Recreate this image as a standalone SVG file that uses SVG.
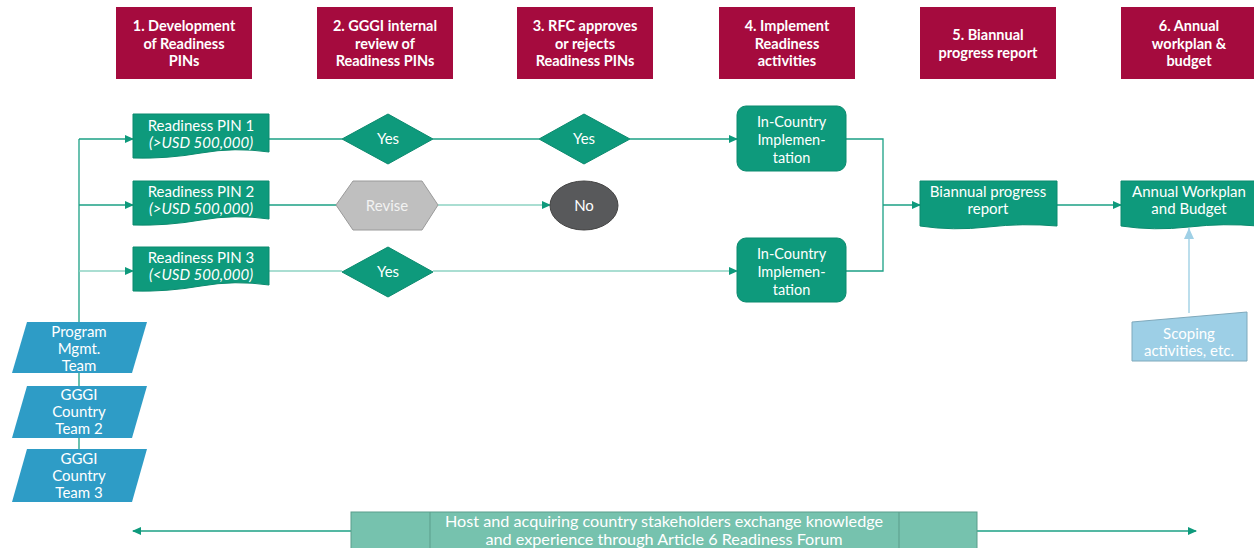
<svg xmlns="http://www.w3.org/2000/svg" width="1254" height="548" viewBox="0 0 1254 548">
<defs>
<style>
.hdr{fill:#A50B3E;}
.ht{font-family:Lato,"Liberation Sans",sans-serif;font-weight:bold;font-size:14.5px;fill:#fff;text-anchor:middle;}
.t{font-family:Lato,"Liberation Sans",sans-serif;font-size:15px;fill:#fff;text-anchor:middle;}
.tl{font-family:Lato,"Liberation Sans",sans-serif;font-size:15px;fill:#fff;text-anchor:middle;}
.it{font-style:italic;}
.g{fill:#0E9A7C;stroke:#0B8A6E;stroke-width:1;}
.p{fill:#2E9CC6;}
.c{fill:none;stroke:#1BA085;stroke-width:1.3;}
.cl{fill:none;stroke:#8ED3C3;stroke-width:1.3;}
.cb{fill:none;stroke:#A6D3E6;stroke-width:1.5;}
</style>
<marker id="a" markerWidth="9" markerHeight="9" refX="8" refY="4.5" orient="auto" markerUnits="userSpaceOnUse"><path d="M0,0.5 L9,4.5 L0,8.5 Z" fill="#0E9A7C"/></marker>
<marker id="ab" markerWidth="12" markerHeight="12" refX="11" refY="6" orient="auto" markerUnits="userSpaceOnUse"><path d="M0,1 L11,6 L0,11 Z" fill="#9FD0E6"/></marker>
</defs>

<g id="connectors">
<path class="c" d="M79,139 V450"/>
<path class="c" d="M79,139 H133" marker-end="url(#a)"/>
<path class="c" d="M79,205 H133" marker-end="url(#a)"/>
<path class="cl" d="M79,271 H133" marker-end="url(#a)"/>
<path class="c" d="M269,139 H342"/>
<path class="c" d="M433,139 H539"/>
<path class="c" d="M630,139 H737" marker-end="url(#a)"/>
<path class="c" d="M269,205 H336"/>
<path class="cl" d="M438,205 H550" marker-end="url(#a)"/>
<path class="cl" d="M269,271 H342"/>
<path class="cl" d="M433,271 H737" marker-end="url(#a)"/>
<path class="c" d="M846,139 H883 V271 H846"/>
<path class="c" d="M883,205 H920" marker-end="url(#a)"/>
<path class="c" d="M1057,205 H1121" marker-end="url(#a)"/>
<path class="cb" d="M1189,313 V228" marker-end="url(#ab)"/>
<path class="c" d="M351,531 H133" marker-end="url(#a)"/>
<path class="c" d="M977,531 H1196" marker-end="url(#a)"/>
</g>

<g id="h1"><rect class="hdr" x="116" y="7" width="136" height="72"/><text class="ht" x="184" y="31">1. Development</text><text class="ht" x="184" y="48.5">of Readiness</text><text class="ht" x="184" y="66">PINs</text></g>
<g id="h2"><rect class="hdr" x="317" y="7" width="136" height="72"/><text class="ht" x="385" y="31">2. GGGI internal</text><text class="ht" x="385" y="48.5">review of</text><text class="ht" x="385" y="66">Readiness PINs</text></g>
<g id="h3"><rect class="hdr" x="517" y="7" width="136" height="72"/><text class="ht" x="585" y="31">3. RFC approves</text><text class="ht" x="585" y="48.5">or rejects</text><text class="ht" x="585" y="66">Readiness PINs</text></g>
<g id="h4"><rect class="hdr" x="719" y="7" width="136" height="72"/><text class="ht" x="787" y="31">4. Implement</text><text class="ht" x="787" y="48.5">Readiness</text><text class="ht" x="787" y="66">activities</text></g>
<g id="h5"><rect class="hdr" x="920" y="7" width="136" height="72"/><text class="ht" x="988" y="40">5. Biannual</text><text class="ht" x="988" y="57.5">progress report</text></g>
<g id="h6"><rect class="hdr" x="1121" y="7" width="136" height="72"/><text class="ht" x="1189" y="31">6. Annual</text><text class="ht" x="1189" y="48.5">workplan &amp;</text><text class="ht" x="1189" y="66">budget</text></g>

<g id="pin1"><path class="g" d="M133,114 H269 V152 Q235,147 201,153 T133,158 Z"/><text class="t" x="201" y="131">Readiness PIN 1</text><text class="t it" x="201" y="148">(&gt;USD 500,000)</text></g>
<g id="pin2"><path class="g" d="M133,181 H269 V219 Q235,214 201,220 T133,225 Z"/><text class="t" x="201" y="197">Readiness PIN 2</text><text class="t it" x="201" y="214">(&gt;USD 500,000)</text></g>
<g id="pin3"><path class="g" d="M133,247 H269 V285 Q235,280 201,286 T133,291 Z"/><text class="t" x="201" y="263">Readiness PIN 3</text><text class="t it" x="201" y="280">(&lt;USD 500,000)</text></g>

<g id="yes1"><path class="g" d="M388,114 L433,139 L388,164 L342,139 Z"/><text class="tl" x="388" y="144">Yes</text></g>
<g id="yes2"><path class="g" d="M584,114 L630,139 L584,164 L539,139 Z"/><text class="tl" x="584" y="144">Yes</text></g>
<g id="yes3"><path class="g" d="M388,247 L433,272 L388,297 L342,272 Z"/><text class="tl" x="388" y="277">Yes</text></g>
<g id="revise"><path d="M336,205 L353,181 L422,181 L438,205 L422,230 L353,230 Z" fill="#BFBFBF" stroke="#9A9A9A"/><text class="tl" x="387" y="210.5" style="fill:#F2F2F2">Revise</text></g>
<g id="no"><ellipse cx="584" cy="205.5" rx="34" ry="24.5" fill="#58595B" stroke="#444"/><text class="tl" x="584" y="211">No</text></g>

<g id="impl1"><rect class="g" x="737" y="106" width="109" height="65" rx="9"/><text class="t" x="791.5" y="127" style="font-size:14.5px">In-Country</text><text class="t" x="791.5" y="145" style="font-size:14.5px">Implemen-</text><text class="t" x="791.5" y="163" style="font-size:14.5px">tation</text></g>
<g id="impl2"><rect class="g" x="737" y="238" width="109" height="64" rx="9"/><text class="t" x="791.5" y="259" style="font-size:14.5px">In-Country</text><text class="t" x="791.5" y="277" style="font-size:14.5px">Implemen-</text><text class="t" x="791.5" y="295" style="font-size:14.5px">tation</text></g>

<g id="biannual"><path class="g" d="M920,181 H1057 V226 Q1023,223 988,227 T920,226 Z"/><text class="t" x="988" y="197">Biannual progress</text><text class="t" x="988" y="214">report</text></g>
<g id="annual"><path class="g" d="M1121,181 H1258 V226 Q1224,223 1189,227 T1121,226 Z"/><text class="t" x="1189" y="197">Annual Workplan</text><text class="t" x="1189" y="214">and Budget</text></g>

<g id="scoping"><path d="M1132,322 L1247,312 V361 H1132 Z" fill="#9DCFE6" stroke="#7FA9BC"/><text class="t" x="1189" y="339">Scoping</text><text class="t" x="1189" y="356">activities, etc.</text></g>

<g id="pmt"><path class="p" d="M27,322 H147 L132,373 H12 Z"/><text class="tl" x="79" y="337">Program</text><text class="tl" x="79" y="354">Mgmt.</text><text class="tl" x="79" y="371">Team</text></g>
<g id="team2"><path class="p" d="M27,386 H147 L132,438 H12 Z"/><text class="tl" x="79" y="400">GGGI</text><text class="tl" x="79" y="417">Country</text><text class="tl" x="79" y="434">Team 2</text></g>
<g id="team3"><path class="p" d="M27,449 H147 L132,502 H12 Z"/><text class="tl" x="79" y="464">GGGI</text><text class="tl" x="79" y="481">Country</text><text class="tl" x="79" y="498">Team 3</text></g>

<g id="forum"><rect x="351" y="512" width="626" height="40" fill="#76C2AE" stroke="#5A9D8B"/><path d="M430,512 V552 M899,512 V552" stroke="#5A9D8B" fill="none"/><text class="t" x="664" y="527" style="font-size:16.2px">Host and acquiring country stakeholders exchange knowledge</text><text class="t" x="664" y="545" style="font-size:16.2px">and experience through Article 6 Readiness Forum</text></g>
</svg>
